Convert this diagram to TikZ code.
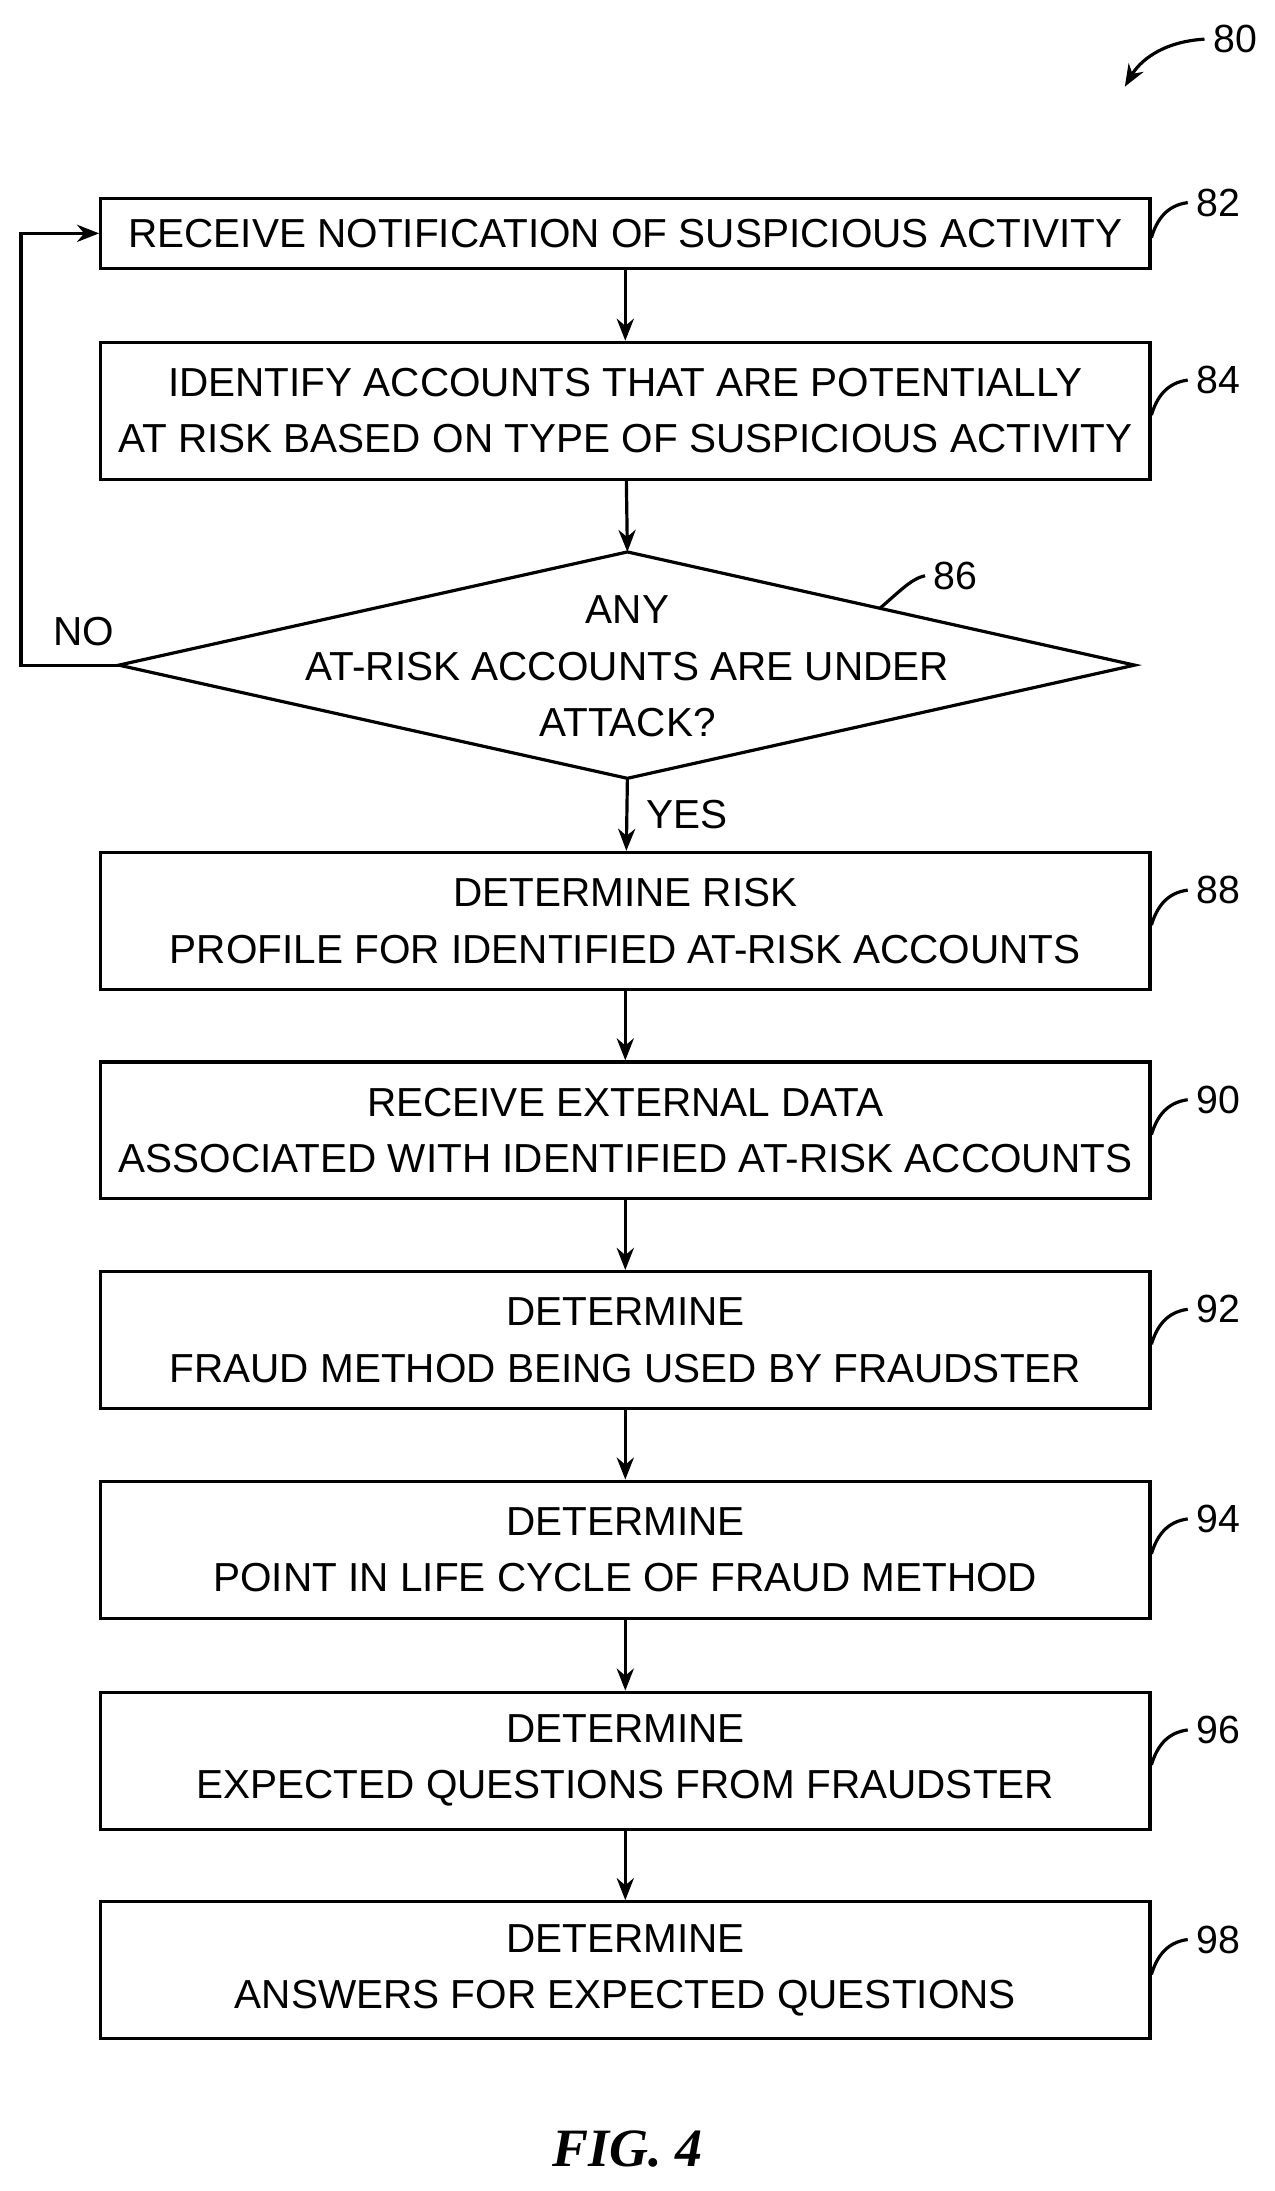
\documentclass[tikz,border=0pt]{standalone}
\usepackage{fontspec}
\setmainfont{Liberation Sans}
\usepackage{tikz}
\usetikzlibrary{shapes.geometric,arrows.meta,positioning}
\tikzset{
  procbox/.style={draw, line width=1.3pt, rectangle, minimum width=15.02cm, minimum height=1.96cm, align=center, font=\fontsize{16.5}{23}\selectfont, inner sep=0pt},
  flow/.style={->, line width=1.3pt, >={Stealth[length=9pt,width=7pt]}},
  refnum/.style={font=\fontsize{16}{18}\selectfont, anchor=west}
}
\begin{document}
\begin{tikzpicture}[x=0.02cm, y=-0.02cm]
    \useasboundingbox (0,0) rectangle (912,1568);
    % Process boxes
    \node[procbox, minimum height=1cm] (s82) at (447.5,167) {RECEIVE NOTIFICATION OF SUSPICIOUS ACTIVITY};
    \node[procbox] (s84) at (447.5,294) {IDENTIFY ACCOUNTS THAT ARE POTENTIALLY\\AT RISK BASED ON TYPE OF SUSPICIOUS ACTIVITY};
    % Decision
    \coordinate (d86n) at (449,395);
    \coordinate (d86e) at (812,476);
    \coordinate (d86s) at (449,557);
    \coordinate (d86w) at (85,476);
    \draw[line width=1.3pt] (d86n) -- (d86e) -- (d86s) -- (d86w) -- cycle;
    \node[align=center, font=\fontsize{16.5}{23}\selectfont] (d86) at (449,477) {ANY\\AT-RISK ACCOUNTS ARE UNDER\\ATTACK?};
    \node[procbox] (s88) at (447.5,659) {DETERMINE RISK\\PROFILE FOR IDENTIFIED AT-RISK ACCOUNTS};
    \node[procbox] (s90) at (447.5,809) {RECEIVE EXTERNAL DATA\\ASSOCIATED WITH IDENTIFIED AT-RISK ACCOUNTS};
    \node[procbox] (s92) at (447.5,959) {DETERMINE\\FRAUD METHOD BEING USED BY FRAUDSTER};
    \node[procbox] (s94) at (447.5,1109) {DETERMINE\\POINT IN LIFE CYCLE OF FRAUD METHOD};
    \node[procbox] (s96) at (447.5,1260) {DETERMINE\\EXPECTED QUESTIONS FROM FRAUDSTER};
    \node[procbox] (s98) at (447.5,1410) {DETERMINE\\ANSWERS FOR EXPECTED QUESTIONS};
    % Connectors
    \draw[flow] (s82) -- (s84);
    \draw[flow] (s84) -- (d86n);
    \draw[flow] (d86s) -- node[right, font=\fontsize{16.5}{20}\selectfont, xshift=4pt] {YES} (s88);
    \draw[flow] (s88) -- (s90);
    \draw[flow] (s90) -- (s92);
    \draw[flow] (s92) -- (s94);
    \draw[flow] (s94) -- (s96);
    \draw[flow] (s96) -- (s98);
    \coordinate (loop) at (15,476);
    \draw[flow] (d86w) -- (loop) |- (s82.west);
    \node[font=\fontsize{16.5}{20}\selectfont] (no) at (60,452) {NO};
    % Reference numerals
    \node[refnum] (r80) at (862,28) {80};
    \draw[flow] (r80.west) .. controls (830,30) and (815,45) .. (805,62);
    \foreach \n/\y in {82/145, 84/272, 88/637, 90/787, 92/937, 94/1087, 96/1238, 98/1388} {
        \node[refnum] (r\n) at (850,\y) {\n};
        \draw[line width=1.3pt] (r\n.west) .. controls (835,\y+2) and (828,\y+12) .. (824,\y+25);
    }
    \node[refnum] (r86) at (662,412) {86};
    \draw[line width=1.3pt] (r86.west) .. controls (652,414) and (642,425) .. (630,435);
    % Figure caption
    \node[font=\fontsize{22}{24}\selectfont\fontspec{Liberation Serif}\bfseries\itshape] (fig) at (449,1538) {FIG. 4};
\end{tikzpicture}
\end{document}
